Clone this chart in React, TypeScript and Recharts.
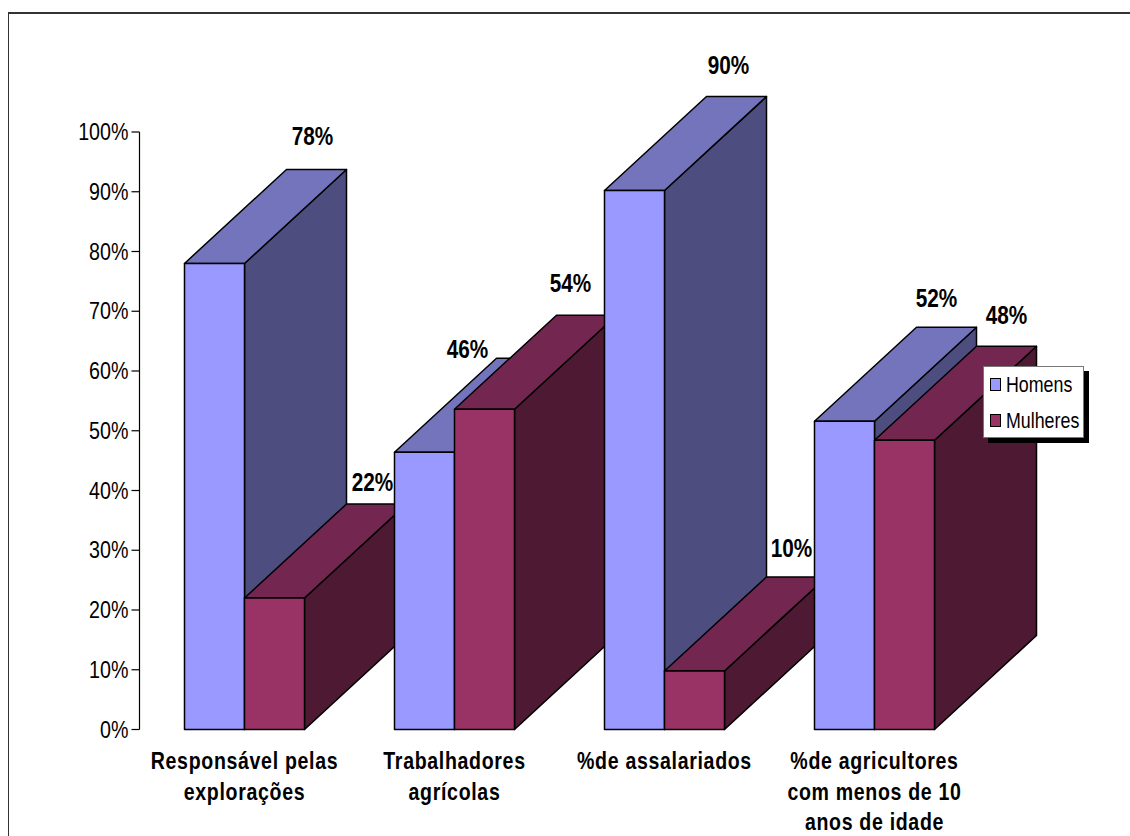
import React from "react";
import { BarChart, Bar, XAxis, YAxis, Legend } from "recharts";

const categories = [
  "Responsável pelas\nexplorações",
  "Trabalhadores\nagrícolas",
  "%de assalariados",
  "%de agricultores\ncom menos de 10\nanos de idade",
];
const homens = [78, 46.4, 90.2, 51.6];
const mulheres = [22, 53.6, 9.8, 48.4];
const yTicks = [0, 10, 20, 30, 40, 50, 60, 70, 80, 90, 100];

const homensNudge = [[98, -127.4], [43, -103.3], [94, -125.6], [92, -123.2]];
const mulheresNudge = [[98, -116], [86, -126.2], [97, -123], [102, -125.3]];

const FONT = '"Liberation Sans", Arial, sans-serif';
const DX = 102;
const DY = -94;
const homensColors = { front: "#9999FF", top: "#7474BD", side: "#4D4D80" };
const mulheresColors = { front: "#993366", top: "#73264F", side: "#4D1933" };

const rows = categories.map((name, i) => ({
  name,
  homens: homens[i],
  mulheres: mulheres[i],
  [`h${i}`]: homens[i],
  [`m${i}`]: mulheres[i],
}));

function box3d(colors: { front: string; top: string; side: string }) {
  return (p: any) => {
    const { x, y, width: w, height: h } = p;
    if (!h || h <= 0) return <g />;
    const common = { stroke: "#000", strokeWidth: 1.5, strokeLinejoin: "round" as const };
    return (
      <g>
        <polygon
          points={`${x + w},${y} ${x + w + DX},${y + DY} ${x + w + DX},${y + h + DY} ${x + w},${y + h}`}
          fill={colors.side}
          {...common}
        />
        <polygon
          points={`${x},${y} ${x + DX},${y + DY} ${x + w + DX},${y + DY} ${x + w},${y}`}
          fill={colors.top}
          {...common}
        />
        <rect x={x} y={y} width={w} height={h} fill={colors.front} {...common} />
      </g>
    );
  };
}

function valueLabel(values: number[], nudge: number[][]) {
  return (p: any) => {
    const { x, y, width: w, index } = p;
    return (
      <text
        transform={`translate(${x + w / 2 + nudge[index][0]},${y + nudge[index][1]}) scale(0.83,1)`}
        textAnchor="middle"
        dominantBaseline="central"
        fontFamily={FONT}
        fontWeight="bold"
        fontSize={25}
        fill="#000"
      >
        {Math.round(values[index])}%
      </text>
    );
  };
}

function CategoryTick(p: any) {
  const { x, payload } = p;
  const lines = String(payload.value).split("\n");
  return (
    <g>
      {lines.map((line: string, i: number) => (
        <text
          key={i}
          transform={`translate(${x},${769 + i * 30.5}) scale(0.85,1)`}
          textAnchor="middle"
          fontFamily={FONT}
          fontWeight="bold"
          fontSize={23}
          letterSpacing={0.8}
          fill="#000"
        >
          {line}
        </text>
      ))}
    </g>
  );
}

function PercentTick(p: any) {
  const { x, y, payload } = p;
  return (
    <text
      transform={`translate(${x},${y}) scale(0.82,1)`}
      textAnchor="end"
      dominantBaseline="central"
      fontFamily={FONT}
      fontSize={24}
      fill="#000"
    >
      {payload.value}%
    </text>
  );
}

function LegendBox() {
  const items = [
    { name: "Homens", color: homensColors.front },
    { name: "Mulheres", color: mulheresColors.front },
  ];
  return (
    <div
      style={{
        width: 101,
        height: 72,
        boxSizing: "border-box",
        background: "#fff",
        border: "1px solid #777",
        boxShadow: "5px 5px 0 #000",
        position: "relative",
        fontFamily: FONT,
        fontSize: 22,
        color: "#000",
      }}
    >
      {items.map((it, i) => (
        <div key={it.name} style={{ position: "absolute", left: 6, top: 5.5 + i * 36, height: 24, display: "flex", alignItems: "center", whiteSpace: "nowrap" }}>
          <span style={{ display: "inline-block", boxSizing: "border-box", width: 11, height: 13, background: it.color, border: "1.5px solid #000", marginRight: 5 }} />
          <span style={{ display: "inline-block", transform: "scaleX(0.81)", transformOrigin: "left center" }}>{it.name}</span>
        </div>
      ))}
    </div>
  );
}

export default function App() {
  return (
    <div style={{ position: "absolute", left: 0, top: 0, width: 1130, height: 836, overflow: "hidden", background: "#fff" }}>
      <div style={{ position: "absolute", left: 8, top: 12, width: 1122, height: 824, borderTop: "2px solid #333", borderLeft: "1.5px solid #333" }} />
      <div style={{ position: "absolute", left: 0, top: 0 }}>
        <BarChart
          width={1130}
          height={836}
          data={rows}
          barSize={60}
          barGap={0}
          margin={{ top: 132, right: 150.5, bottom: 0, left: 0 }}
        >
          <XAxis dataKey="name" axisLine={false} tickLine={false} tick={(p: any) => <CategoryTick {...p} />} interval={0} height={106.5} />
          <XAxis xAxisId="labels" dataKey="name" hide />
          <YAxis
            width={139.5}
            domain={[0, 100]}
            ticks={yTicks}
            interval={0}
            tickSize={8}
            tickMargin={3}
            axisLine={{ stroke: "#000", strokeWidth: 1.2 }}
            tickLine={{ stroke: "#000", strokeWidth: 1.2 }}
            tick={(p: any) => <PercentTick {...p} />}
          />
          {categories.flatMap((_, i) => [
            <Bar key={`h${i}`} dataKey={`h${i}`} stackId="h" isAnimationActive={false} shape={box3d(homensColors)} />,
            <Bar key={`m${i}`} dataKey={`m${i}`} stackId="m" isAnimationActive={false} shape={box3d(mulheresColors)} />,
          ])}
          <Bar xAxisId="labels" dataKey="homens" stackId="lh" isAnimationActive={false} shape={valueLabel(homens, homensNudge)} />
          <Bar xAxisId="labels" dataKey="mulheres" stackId="lm" isAnimationActive={false} shape={valueLabel(mulheres, mulheresNudge)} />
          <Legend
            layout="vertical"
            align="center"
            verticalAlign="middle"
            content={<LegendBox />}
            wrapperStyle={{ position: "absolute", left: 983, top: 366, width: 101, height: 72, bottom: "auto", right: "auto" }}
          />
        </BarChart>
      </div>
    </div>
  );
}
